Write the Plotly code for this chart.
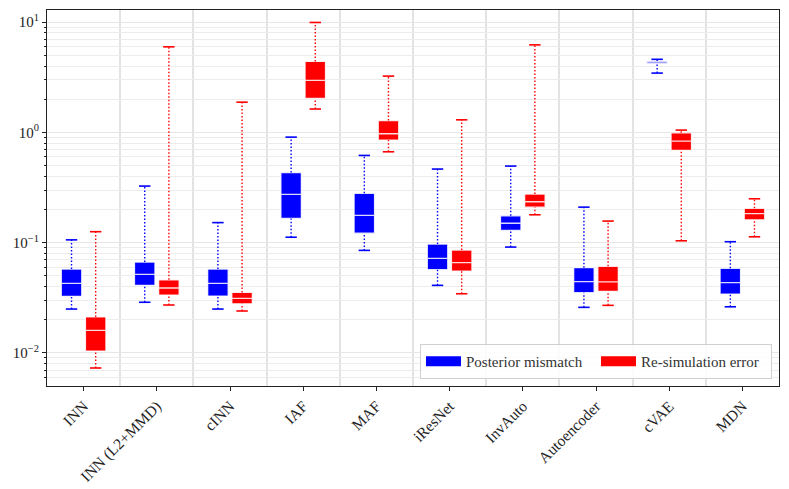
import plotly.graph_objects as go

categories = ['INN', 'INN (L2+MMD)', 'cINN', 'IAF', 'MAF', 'iResNet', 'InvAuto', 'Autoencoder', 'cVAE', 'MDN']

# Posterior mismatch (blue)
post_lower = [0.0250, 0.0288, 0.0250, 0.112, 0.0851, 0.0410, 0.0912, 0.0259, 3.45, 0.0262]
post_q1 = [0.0326, 0.0410, 0.0328, 0.166, 0.122, 0.0569, 0.129, 0.0352, 4.20, 0.0342]
post_median = [0.0428, 0.0515, 0.0428, 0.274, 0.177, 0.0719, 0.150, 0.0443, 4.35, 0.0434]
post_q3 = [0.0577, 0.0667, 0.0577, 0.433, 0.280, 0.0970, 0.175, 0.0593, 4.45, 0.0585]
post_upper = [0.106, 0.326, 0.152, 0.906, 0.618, 0.465, 0.495, 0.210, 4.60, 0.102]

# Re-simulation error (red)
resim_lower = [0.0073, 0.0272, 0.0240, 1.63, 0.667, 0.0344, 0.179, 0.0270, 0.104, 0.113]
resim_q1 = [0.0104, 0.0335, 0.0279, 2.03, 0.851, 0.0553, 0.210, 0.0362, 0.687, 0.161]
resim_median = [0.0160, 0.0388, 0.0312, 2.96, 0.972, 0.0658, 0.235, 0.0440, 0.834, 0.183]
resim_q3 = [0.0212, 0.0461, 0.0354, 4.40, 1.28, 0.0857, 0.276, 0.0610, 0.992, 0.205]
resim_upper = [0.1257, 5.97, 1.88, 9.93, 3.24, 1.30, 6.22, 0.157, 1.049, 0.250]

y_tickvals = [0.01, 0.1, 1, 10]
y_ticktext = ['10<sup>\u22122</sup>', '10<sup>\u22121</sup>', '10<sup>0</sup>', '10<sup>1</sup>']

series = [
    ('Posterior mismatch', '#0000ff', -0.165, post_lower, post_q1, post_median, post_q3, post_upper),
    ('Re-simulation error', '#ff0000', 0.165, resim_lower, resim_q1, resim_median, resim_q3, resim_upper),
]

FONT = "'Liberation Serif', 'DejaVu Serif', serif"
BOXW = 0.28
CAPH = 0.078

fig = go.Figure()

for name, color, off, lo, q1, med, q3, up in series:
    pos = [i + off for i in range(len(categories))]
    # whiskers (dotted)
    wx, wy = [], []
    for p, a, b, c, d in zip(pos, lo, q1, q3, up):
        wx += [p, p, None, p, p, None]
        wy += [a, b, None, c, d, None]
    fig.add_trace(go.Scatter(x=wx, y=wy, mode='lines', showlegend=False, hoverinfo='skip',
                             line=dict(color=color, width=1.4, dash='1.5px,2px')))
    # caps
    cx, cy = [], []
    for p, a, d in zip(pos, lo, up):
        cx += [p - CAPH, p + CAPH, None, p - CAPH, p + CAPH, None]
        cy += [a, a, None, d, d, None]
    fig.add_trace(go.Scatter(x=cx, y=cy, mode='lines', showlegend=False, hoverinfo='skip',
                             line=dict(color=color, width=1.6)))
    # boxes
    fig.add_trace(go.Box(
        name=name, x=pos, q1=q1, median=med, q3=q3, lowerfence=q1, upperfence=q3,
        width=BOXW, fillcolor=color, line=dict(color='rgba(255,255,255,0.85)', width=1.3),
        boxpoints=False, showlegend=False,
    ))
    # legend patch
    fig.add_trace(go.Scatter(x=[None], y=[None], mode='lines', name=name,
                             line=dict(color=color, width=12), showlegend=True))

fig.update_layout(
    width=781, height=481,
    margin=dict(l=39, r=10, t=2, b=103),
    plot_bgcolor='white', paper_bgcolor='white',
    boxmode='overlay',
    font=dict(family=FONT, size=13, color='#222'),
    legend=dict(orientation='h', x=0.9904, y=0.0186, xanchor='right', yanchor='bottom',
                bgcolor='rgba(255,255,255,0.85)', bordercolor='#d0d0d0', borderwidth=1,
                font=dict(family=FONT, size=15, color='#333'), itemwidth=35,
                entrywidth=125, entrywidthmode='pixels', tracegroupgap=0),
    showlegend=True,
)

fig.update_xaxes(
    range=[-0.5, 9.5], tickmode='array', tickvals=list(range(len(categories))), ticktext=categories,
    tickangle=-45, ticks='outside', ticklen=4, tickcolor='#222', showgrid=False, zeroline=False,
    showline=True, linecolor='#222', linewidth=1.2, mirror=True, automargin=False,
    tickfont=dict(family=FONT, size=15.5, color='#222'),
    minor=dict(tickmode='array', tickvals=[i + 0.5 for i in range(len(categories) - 1)],
               showgrid=True, gridcolor='#e3e3e3', gridwidth=2, ticks=''),
)

fig.update_yaxes(
    type='log', range=[-2.30, 1.11], tickmode='array', tickvals=y_tickvals, ticktext=y_ticktext,
    ticks='outside', ticklen=4, tickcolor='#222', showgrid=True, gridcolor='#e6e6e6', gridwidth=1,
    zeroline=False, showline=True, linecolor='#222', linewidth=1.2, mirror=True, automargin=False,
    tickfont=dict(family=FONT, size=15, color='#222'),
    minor=dict(dtick='D1', ticks='outside', ticklen=2, tickcolor='#222', showgrid=True,
               gridcolor='#ececec', gridwidth=1),
)

fig.write_html('out.html')
